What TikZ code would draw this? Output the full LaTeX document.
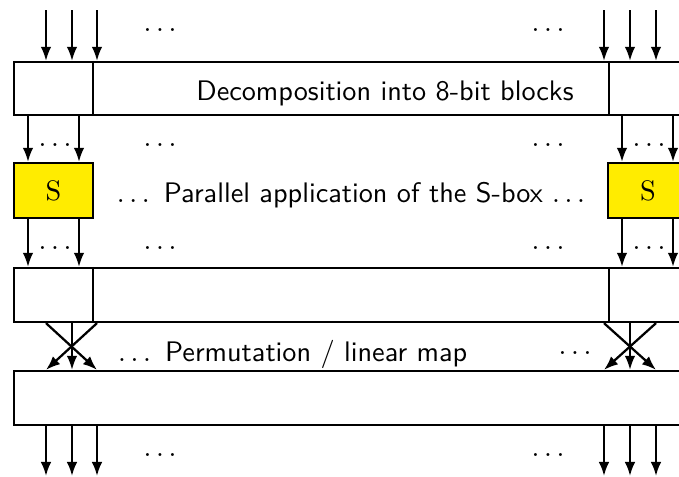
\documentclass[tikz,border=0pt]{standalone}
\usetikzlibrary{arrows.meta,fit}
\definecolor{sboxyellow}{RGB}{255,236,0}

\begin{document}
\begin{tikzpicture}[x=0.354pt, y=-0.354pt, thick,
        >={Latex[length=5pt,width=3.8pt]},
        every node/.style={font=\sffamily, inner sep=0pt},
        row/.style={draw, inner sep=0pt},
        sbox/.style={draw, fill=sboxyellow, inner sep=0pt}]
        \useasboundingbox (0, 0) rectangle (679, 476);
        \clip (0, 0) rectangle (679, 476);

        % the rows of blocks
        \node[row, fit={(14, 62) (720, 115)}] (dec) {};
        \node[sbox, fit={(14, 163) (93, 218)}] (sl) {};
        \node[sbox, fit={(608, 163) (688, 218)}] (sr) {};
        \node[row, fit={(14, 268) (720, 322)}] (mix) {};
        \node[row, fit={(14, 371) (720, 425)}] (lin) {};
        \node[font=\rmfamily] (slt) at (sl.center) {S};
        \node[font=\rmfamily] (srt) at (sr.center) {S};

        \foreach \x in {93, 609} {
            \draw (\x, 0 |- dec.north) -- (\x, 0 |- dec.south);
            \draw (\x, 0 |- mix.north) -- (\x, 0 |- mix.south);
        }

        \node[anchor=base] (decl) at (385, 100) {Decomposition into 8-bit blocks};
        \node[anchor=base] (sboxl) at (351, 202) {$\ldots$\enspace Parallel application of the S-box $\ldots$};
        \node[anchor=base west] (perml) at (117, 361) {$\ldots$\enspace Permutation / linear map};
        \node (permd) at (575, 353) {$\ldots$};

        % arrows
        \foreach \x in {46, 72, 97, 604, 630, 656} {
            \coordinate (in\x) at (\x, 10);
            \coordinate (out\x) at (\x, 476);
            \draw[->] (in\x) -- (in\x |- dec.north);
            \draw[->] (\x, 0 |- lin.south) -- (out\x);
        }
        \foreach \x in {28, 79} {
            \draw[->] (\x, 0 |- dec.south) -- (\x, 0 |- sl.north);
            \draw[->] (\x, 0 |- sl.south) -- (\x, 0 |- mix.north);
        }
        \foreach \x in {622, 673} {
            \draw[->] (\x, 0 |- dec.south) -- (\x, 0 |- sr.north);
            \draw[->] (\x, 0 |- sr.south) -- (\x, 0 |- mix.north);
        }
        \foreach \a/\b in {46/97, 72/72, 97/46, 604/656, 630/630, 656/604}
            \draw[->] (\a, 0 |- mix.south) -- (\b, 0 |- lin.north);

        % dots
        \foreach \x/\y in {160/30, 548/30, 55/145, 160/145, 548/145, 649/145,
                55/248, 160/248, 548/248, 649/248, 160/455, 548/455}
            \node (d\x-\y) at (\x, \y) {$\ldots$};
    \end{tikzpicture}
\end{document}
